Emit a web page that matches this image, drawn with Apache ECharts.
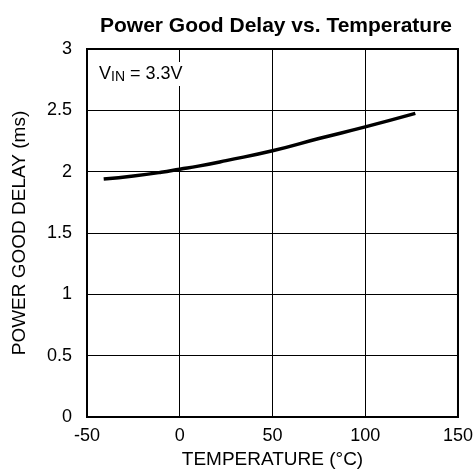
<!DOCTYPE html>
<html>
<head>
<meta charset="utf-8">
<script src="https://cdn.jsdelivr.net/npm/echarts@6/dist/echarts.min.js"></script>
<style>
  html, body { margin: 0; padding: 0; background: #fff; }
  #chart { width: 476px; height: 474px; }
</style>
</head>
<body>
<div id="chart"></div>
<script>
// temperature (°C) and delay (ms)
const temps = [-41, -25, -10, 0, 10, 25, 50, 75, 100, 127]
const delays = [1.94, 1.965, 1.995, 2.02, 2.045, 2.09, 2.17, 2.27, 2.365, 2.475]

const font = '"Liberation Sans", Arial, sans-serif'

const chart = echarts.init(document.getElementById('chart'))

chart.setOption({
  animation: false,
  title: {
    text: 'Power Good Delay vs. Temperature',
    left: 271,
    textAlign: 'center',
    top: 11,
    textStyle: { fontFamily: font, fontSize: 21, fontWeight: 'bold', color: '#000' },
  },
  grid: { left: 87, right: 18, top: 49, bottom: 55, show: true, borderColor: '#000', borderWidth: 2 },
  xAxis: {
    type: 'value',
    min: -50,
    max: 150,
    interval: 50,
    name: 'TEMPERATURE (°C)',
    nameLocation: 'middle',
    nameGap: 33,
    nameTextStyle: { fontFamily: font, fontSize: 19, color: '#000' },
    axisLine: { show: false },
    axisTick: { show: false },
    splitLine: { show: true, lineStyle: { color: '#000', width: 1 } },
    axisLabel: { fontFamily: font, fontSize: 18, color: '#000', margin: 10 },
  },
  yAxis: {
    type: 'value',
    min: 0,
    max: 3,
    interval: 0.5,
    name: 'POWER GOOD DELAY (ms)',
    nameLocation: 'middle',
    nameGap: 58,
    nameTextStyle: { fontFamily: font, fontSize: 19, color: '#000' },
    axisLine: { show: false },
    axisTick: { show: false },
    splitLine: { show: true, lineStyle: { color: '#000', width: 1 } },
    axisLabel: { fontFamily: font, fontSize: 18, color: '#000', margin: 15 },
  },
  graphic: [
    {
      type: 'text',
      left: 98,
      top: 62,
      z: 10,
      style: {
        text: '{v|V}{s|IN}{v| = 3.3V}',
        backgroundColor: '#fff',
        padding: [2, 1, 2, 1],
        rich: {
          v: { fontFamily: font, fontSize: 18, color: '#000', lineHeight: 20 },
          s: { fontFamily: font, fontSize: 14, color: '#000', lineHeight: 20, verticalAlign: 'bottom', padding: [7, 0, 0, 0] },
        },
      },
    },
  ],
  series: [
    {
      type: 'line',
      data: temps.map((t, i) => [t, delays[i]]),
      smooth: true,
      showSymbol: false,
      lineStyle: { color: '#000', width: 3.5 },
    },
  ],
})
</script>
</body>
</html>
